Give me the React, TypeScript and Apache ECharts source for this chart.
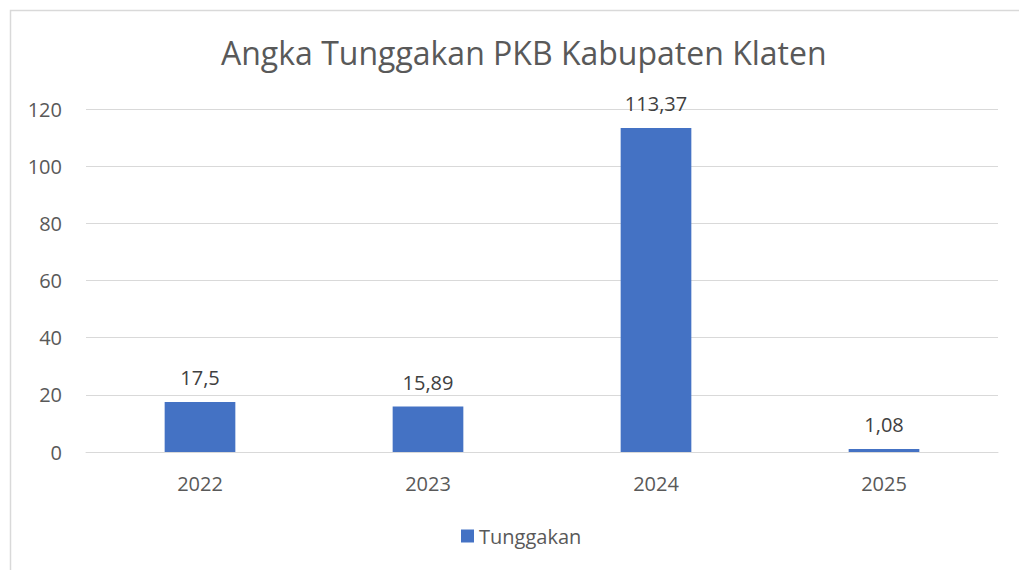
import React, { useEffect, useRef } from "react";
import * as echarts from "echarts";

const categories = ["2022", "2023", "2024", "2025"];
const values = [17.5, 15.89, 113.37, 1.08];
const seriesName = "Tunggakan";
const titleText = "Angka Tunggakan PKB Kabupaten Klaten";

const FONT = "'Open Sans', 'Noto Sans', sans-serif";

export default function App() {
  const ref = useRef<HTMLDivElement>(null);
  useEffect(() => {
    if (!ref.current) return;
    const chart = echarts.init(ref.current, null, { renderer: "svg" });
    chart.setOption({
      animation: false,
      backgroundColor: "#ffffff",
      textStyle: { fontFamily: FONT },
      title: {
        text: titleText,
        left: 216,
        top: 31,
        textStyle: { fontSize: 32, fontWeight: "normal", color: "#595959", fontFamily: FONT },
      },
      graphic: [
        {
          type: "rect",
          shape: { x: 10.5, y: 10.5, width: 1100, height: 700 },
          style: { fill: "none", stroke: "#d9d9d9", lineWidth: 1.5 },
          silent: true,
        },
      ],
      legend: {
        bottom: 19,
        left: 456,
        itemWidth: 13,
        itemHeight: 13,
        icon: "rect",
        itemGap: 10,
        textStyle: { fontSize: 20, color: "#595959", fontFamily: FONT },
        data: [seriesName],
      },
      grid: { left: 86, right: 21, top: 109, bottom: 118, containLabel: false },
      xAxis: {
        type: "category",
        data: categories,
        axisLine: { lineStyle: { color: "#d9d9d9", width: 1 } },
        axisTick: { show: false },
        axisLabel: { fontSize: 20, color: "#595959", margin: 21, fontFamily: FONT },
      },
      yAxis: {
        type: "value",
        min: 0,
        max: 120,
        interval: 20,
        axisLine: { show: false },
        axisTick: { show: false },
        splitLine: { lineStyle: { color: "#d9d9d9", width: 1 } },
        axisLabel: { fontSize: 20, color: "#595959", margin: 24, fontFamily: FONT },
      },
      series: [
        {
          name: seriesName,
          type: "bar",
          data: values,
          barWidth: "31%",
          itemStyle: { color: "#4472c4" },
          label: {
            show: true,
            position: "top",
            distance: 14,
            fontSize: 20,
            color: "#404040",
            fontFamily: FONT,
            formatter: (p: any) => String(p.value).replace(".", ","),
          },
        },
      ],
    });
    return () => chart.dispose();
  }, []);
  return (
    <div
      ref={ref}
      style={{ position: "fixed", left: 0, top: 0, width: 1019, height: 570 }}
    />
  );
}
